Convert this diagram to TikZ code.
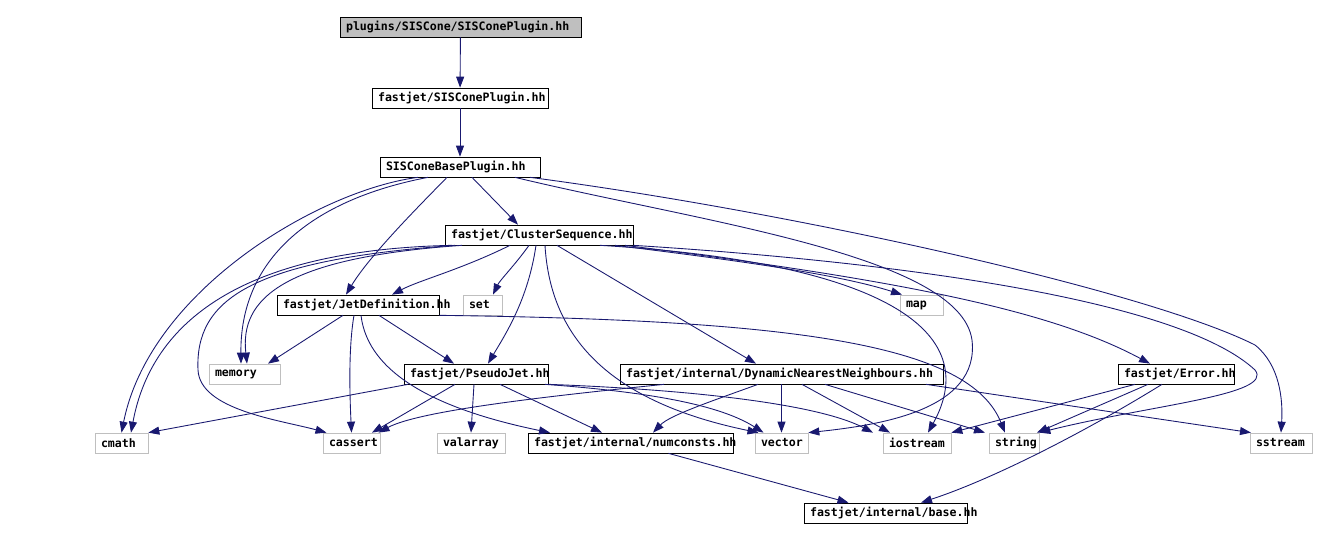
\documentclass[tikz,border=0pt]{standalone}
\usepackage{fontspec}
\usepackage{tikz}
\usetikzlibrary{arrows.meta}
\newfontfamily\dotfont{DejaVu Sans Mono}[HyphenChar=None]
\definecolor{edgeblue}{RGB}{25,25,112}
\definecolor{boxgray}{RGB}{191,191,191}

\tikzset{
  incl/.style={draw=black, fill=white, minimum height=0.4cm, inner xsep=0.12cm, inner ysep=0pt,
               text width=#1, align=left, font=\dotfont\bfseries\fontsize{6.6}{8}\selectfont},
  sysincl/.style={incl=#1, draw=boxgray},
  dep/.style={draw=edgeblue, line width=0.5pt, -{Triangle[length=0.22cm,width=0.16cm]}},
}

\begin{document}
\begin{tikzpicture}[x=0.02cm, y=-0.02cm]

% Canvas
\fill[white] (0,0) rectangle (1340,540);
\useasboundingbox (0,0) rectangle (1340,540);

% Header chain
\node[incl=4.58cm, fill=boxgray] (top) at (460.5,27) {plugins/SISCone/SISConePlugin.hh};
\node[incl=3.28cm] (fjsis) at (460,98) {fastjet/SISConePlugin.hh};
\node[incl=2.96cm] (sisbase) at (460,167) {SISConeBasePlugin.hh};
\node[incl=3.52cm] (clseq) at (539,235) {fastjet/ClusterSequence.hh};

% Second row
\node[incl=3.0cm] (jetdef) at (358,305) {fastjet/JetDefinition.hh};
\node[sysincl=0.54cm] (set) at (482.5,305) {set};
\node[sysincl=0.62cm] (map) at (921.5,305) {map};

% Third row
\node[sysincl=1.18cm] (memory) at (244.5,374) {memory};
\node[incl=2.64cm] (pseudojet) at (476,374) {fastjet/PseudoJet.hh};
\node[incl=6.22cm] (dnn) at (781.5,374) {fastjet/internal/DynamicNearestNeighbours.hh};
\node[incl=2.08cm] (error) at (1176,374) {fastjet/Error.hh};

% Bottom row
\node[sysincl=0.82cm] (cmath) at (121.5,443) {cmath};
\node[sysincl=0.90cm] (cassert) at (351.5,443) {cassert};
\node[sysincl=1.12cm] (valarray) at (471,443) {valarray};
\node[incl=3.86cm] (numconsts) at (630.5,443) {fastjet/internal/numconsts.hh};
\node[sysincl=0.82cm] (vector) at (781.5,443) {vector};
\node[sysincl=1.12cm] (iostream) at (917,443) {iostream};
\node[sysincl=0.76cm] (string) at (1014,443) {string};
\node[sysincl=1.0cm] (sstream) at (1281,443) {sstream};
\node[incl=3.02cm] (basehh) at (885.5,513) {fastjet/internal/base.hh};

% Top chain
\draw[dep] (top) -- (fjsis);
\draw[dep] (fjsis) -- (sisbase);

% SISConeBasePlugin.hh
\draw[dep] ([xshift=0.24cm]sisbase.south) -- ([xshift=-0.42cm]clseq.north);
\draw[dep] ([xshift=-0.26cm]sisbase.south) .. controls (420,205) and (370,255) .. ([xshift=-0.24cm]jetdef.north);
\draw[dep] ([xshift=-0.84cm]sisbase.south) .. controls (320,190) and (150,290) .. (cmath.north);
\draw[dep] ([xshift=-0.64cm]sisbase.south) .. controls (310,200) and (240,260) .. ([xshift=-0.07cm]memory.north);
\draw[dep] ([xshift=1.1cm]sisbase.south) .. controls (700,222) and (960,255) .. (972,340)
           .. controls (980,410) and (880,425) .. (vector.north east);
\draw[dep] ([xshift=1.4cm]sisbase.south) .. controls (800,213) and (1150,292) .. (1255,345)
           .. controls (1280,365) and (1283,400) .. (sstream.north);

% ClusterSequence.hh
\draw[dep] ([xshift=-1.74cm]clseq.south) .. controls (230,250) and (150,330) .. ([xshift=0.19cm]cmath.north);
\draw[dep] ([xshift=-1.68cm]clseq.south) .. controls (250,260) and (195,300) .. (198,370)
           .. controls (200,410) and (280,420) .. ([xshift=-0.5cm]cassert.north);
\draw[dep] ([xshift=-1.54cm]clseq.south) .. controls (280,258) and (240,300) .. ([xshift=0.05cm]memory.north);
\draw[dep] ([xshift=-0.58cm]clseq.south) .. controls (460,270) and (420,280) .. ([xshift=0.68cm]jetdef.north);
\draw[dep] ([xshift=-0.2cm]clseq.south) .. controls (515,265) and (500,280) .. ([xshift=0.21cm]set.north);
\draw[dep] ([xshift=-0.06cm]clseq.south) .. controls (528,300) and (505,335) .. ([xshift=0.24cm]pseudojet.north);
\draw[dep] ([xshift=0.12cm]clseq.south) .. controls (550,330) and (600,400) .. ([xshift=-0.46cm]vector.north);
\draw[dep] ([xshift=0.36cm]clseq.south) -- ([xshift=-0.51cm]dnn.north);
\draw[dep] ([xshift=1.22cm]clseq.south) .. controls (880,262) and (985,330) .. ([xshift=0.22cm]iostream.north);
\draw[dep] ([xshift=1.52cm]clseq.south) .. controls (750,262) and (840,275) .. ([xshift=-0.39cm]map.north);
\draw[dep] ([xshift=1.72cm]clseq.south) .. controls (900,280) and (1050,310) .. ([xshift=-0.52cm]error.north);
\draw[dep] (clseq.south east) .. controls (900,262) and (1180,300) .. (1255,370)
           .. controls (1275,395) and (1150,405) .. (string.north east);

% JetDefinition.hh
\draw[dep] ([xshift=-0.3cm]jetdef.south) -- ([xshift=0.47cm]memory.north);
\draw[dep] ([xshift=-0.08cm]jetdef.south) .. controls (348,350) and (350,400) .. (cassert.north);
\draw[dep] ([xshift=0.06cm]jetdef.south) .. controls (368,375) and (440,410) .. ([xshift=-1.61cm]numconsts.north);
\draw[dep] ([xshift=0.42cm]jetdef.south) -- ([xshift=-0.44cm]pseudojet.north);
\draw[dep] (jetdef.south east) .. controls (800,320) and (970,345) .. ([xshift=-0.18cm]string.north);

% PseudoJet.hh
\draw[dep] ([xshift=-1.36cm]pseudojet.south) -- (cmath.north east);
\draw[dep] ([xshift=-0.42cm]pseudojet.south) -- ([xshift=0.41cm]cassert.north);
\draw[dep] ([xshift=-0.04cm]pseudojet.south) -- (valarray.north);
\draw[dep] ([xshift=0.48cm]pseudojet.south) -- ([xshift=-0.57cm]numconsts.north);
\draw[dep] ([xshift=1.38cm]pseudojet.south) .. controls (650,392) and (720,405) .. ([xshift=-0.36cm]vector.north);
\draw[dep] (pseudojet.south east) .. controls (700,390) and (820,405) .. ([xshift=-0.88cm]iostream.north);

% DynamicNearestNeighbours.hh
\draw[dep] ([xshift=-2.35cm]dnn.south) .. controls (560,395) and (420,410) .. ([xshift=0.54cm]cassert.north);
\draw[dep] ([xshift=-0.47cm]dnn.south) .. controls (715,400) and (670,415) .. ([xshift=0.45cm]numconsts.north);
\draw[dep] (dnn.south) -- (vector.north);
\draw[dep] ([xshift=0.41cm]dnn.south) -- ([xshift=-0.54cm]iostream.north);
\draw[dep] ([xshift=0.87cm]dnn.south) -- ([xshift=-0.58cm]string.north);
\draw[dep] ([xshift=2.89cm]dnn.south) -- ([xshift=-0.6cm]sstream.north);

% Error.hh
\draw[dep] ([xshift=-0.82cm]error.south) -- (iostream.north east);
\draw[dep] ([xshift=-0.56cm]error.south) -- ([xshift=0.46cm]string.north);
\draw[dep] ([xshift=-0.28cm]error.south) .. controls (1080,435) and (990,480) .. ([xshift=0.71cm]basehh.north);

% numconsts.hh
\draw[dep] ([xshift=0.76cm]numconsts.south) -- ([xshift=-0.74cm]basehh.north);

\end{tikzpicture}
\end{document}
